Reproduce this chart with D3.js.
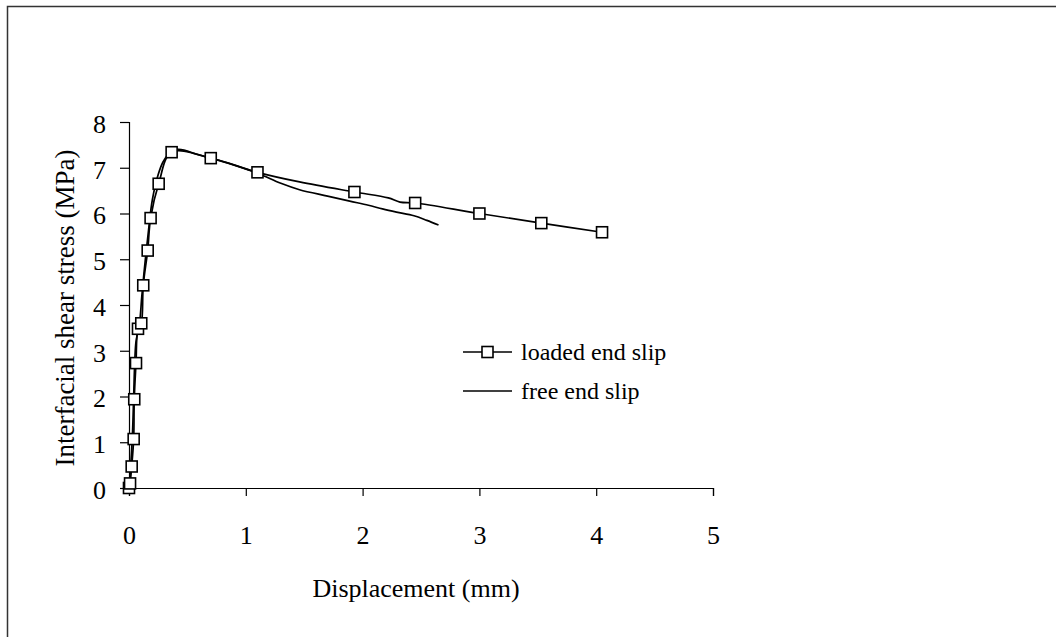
<!DOCTYPE html>
<html><head><meta charset="utf-8">
<script src="https://cdn.jsdelivr.net/npm/d3@7"></script>
<style>body{margin:0;background:#fff}svg{display:block}text{font-family:"Liberation Serif","Times New Roman",serif;fill:#000}</style>
</head><body>
<svg id="c" width="1056" height="637"></svg>
<script>
// Loaded end slip: line points
const loadedX = [0, 0.009, 0.023, 0.04, 0.045, 0.06, 0.077, 0.105, 0.122, 0.16, 0.185, 0.254, 0.365, 0.70, 1.10, 1.46, 1.93, 2.22, 2.32, 2.45, 3.00, 3.53, 4.05];
const loadedY = [0, 0.10, 0.47, 1.07, 1.94, 2.73, 3.48, 3.60, 4.43, 5.19, 5.90, 6.65, 7.34, 7.21, 6.90, 6.69, 6.47, 6.34, 6.25, 6.23, 6.00, 5.79, 5.59];
// Loaded end slip: marker points
const markerX = [0, 0.009, 0.023, 0.04, 0.045, 0.06, 0.077, 0.105, 0.122, 0.16, 0.185, 0.254, 0.365, 0.70, 1.10, 1.93, 2.45, 3.00, 3.53, 4.05];
const markerY = [0, 0.10, 0.47, 1.07, 1.94, 2.73, 3.48, 3.60, 4.43, 5.19, 5.90, 6.65, 7.34, 7.21, 6.90, 6.47, 6.23, 6.00, 5.79, 5.59];
// Free end slip
const freeX = [0, 0.015, 0.03, 0.04, 0.05, 0.06, 0.09, 0.11, 0.14, 0.17, 0.20, 0.25, 0.29, 0.34, 0.42, 0.60, 0.85, 1.10, 1.30, 1.46, 1.70, 1.89, 2.05, 2.17, 2.29, 2.44, 2.55, 2.65];
const freeY = [0, 0.5, 1.2, 2.0, 2.8, 3.2, 3.6, 4.2, 5.0, 5.7, 6.3, 6.85, 7.12, 7.30, 7.40, 7.28, 7.10, 6.88, 6.66, 6.52, 6.38, 6.27, 6.18, 6.10, 6.03, 5.95, 5.85, 5.75];
const xTicks = [0, 1, 2, 3, 4, 5];
const yTicks = [0, 1, 2, 3, 4, 5, 6, 7, 8];
const seriesNames = ["loaded end slip", "free end slip"];
const xTitle = "Displacement (mm)";
const yTitle = "Interfacial shear stress (MPa)";

const svg = d3.select("#c");
const x = d3.scaleLinear().domain([0, 5]).range([129, 713]);
const y = d3.scaleLinear().domain([0, 8]).range([488, 122]);
const FS = 26, LFS = 24;

// outer border (top + left visible)
svg.append("rect").attr("x", 7.5).attr("y", 6.5).attr("width", 1100).attr("height", 700)
  .attr("fill", "none").attr("stroke", "#333").attr("stroke-width", 1.5);

const xa = svg.append("g").attr("transform", `translate(0,${y(0)})`)
  .call(d3.axisBottom(x).tickValues(xTicks).tickSize(8).tickPadding(30).tickFormat(d3.format("d")));
const ya = svg.append("g").attr("transform", `translate(${x(0)},0)`)
  .call(d3.axisLeft(y).tickValues(yTicks).tickSize(9).tickPadding(14).tickFormat(d3.format("d")));
[xa, ya].forEach(g => {
  g.select(".domain").attr("stroke", "#000").attr("stroke-width", 1.2);
  g.selectAll(".tick line").attr("stroke", "#000").attr("stroke-width", 1.2);
  g.selectAll("text").attr("font-size", FS).attr("font-family", "Liberation Serif").attr("fill", "#000");
});
ya.selectAll("text").attr("dy", "0.4em");

svg.append("text").attr("x", 416).attr("y", 597).attr("text-anchor", "middle").attr("font-size", FS).text(xTitle);
svg.append("text").attr("transform", `translate(74,${308}) rotate(-90)`).attr("text-anchor", "middle")
  .attr("font-size", 27).text(yTitle);

const line = d3.line().x(d => x(d[0])).y(d => y(d[1])).curve(d3.curveCatmullRom.alpha(0.5));
svg.append("path").datum(freeX.map((v, i) => [v, freeY[i]])).attr("d", line)
  .attr("fill", "none").attr("stroke", "#000").attr("stroke-width", 1.7);
svg.append("path").datum(loadedX.map((v, i) => [v, loadedY[i]])).attr("d", line)
  .attr("fill", "none").attr("stroke", "#000").attr("stroke-width", 1.7);

const M = 11;
svg.append("g").selectAll("rect").data(markerX.map((v, i) => [v, markerY[i]])).join("rect")
  .attr("x", d => x(d[0]) - M / 2).attr("y", d => y(d[1]) - M / 2).attr("width", M).attr("height", M)
  .attr("fill", "#fff").attr("stroke", "#000").attr("stroke-width", 1.6);

// legend
const lg = svg.append("g");
const rows = [352, 391];
rows.forEach((ry, i) => {
  lg.append("line").attr("x1", 463).attr("x2", 512).attr("y1", ry).attr("y2", ry).attr("stroke", "#000").attr("stroke-width", 1.6);
  if (i === 0) lg.append("rect").attr("x", 487.5 - M / 2).attr("y", ry - M / 2).attr("width", M).attr("height", M)
    .attr("fill", "#fff").attr("stroke", "#000").attr("stroke-width", 1.6);
  lg.append("text").attr("x", 521).attr("y", ry).attr("dy", "0.35em").attr("font-size", LFS).text(seriesNames[i]);
});
</script>
</body></html>
